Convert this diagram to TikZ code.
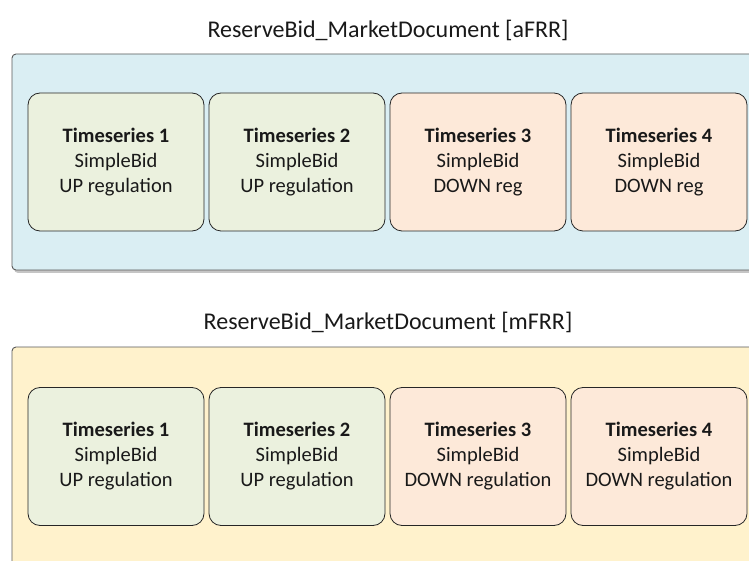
\documentclass[tikz,border=0pt]{standalone}
\usepackage{fontspec}
\setmainfont{Carlito}
\usepackage{xcolor}
\usetikzlibrary{shadows}

\definecolor{docblue}{HTML}{DAEEF3}
\definecolor{docyellow}{HTML}{FFF2CC}
\definecolor{upgreen}{HTML}{EBF1DE}
\definecolor{downred}{HTML}{FDE9D9}

\begin{document}
\begin{tikzpicture}[x=1pt, y=1pt,
    every node/.style={font=\fontsize{20.5}{25}\selectfont, text=black!90},
    doctitle/.style={font=\fontsize{24}{28}\selectfont},
    docbox/.style={draw=black!65, line width=0.9pt, rounded corners=4pt},
    tsbox/.style={draw=black!85, line width=0.8pt, rounded corners=12pt,
        minimum width=176pt, minimum height=138pt, align=center, inner sep=0pt},
    upbox/.style={tsbox, fill=upgreen},
    downbox/.style={tsbox, fill=downred}]
    \useasboundingbox (0,0) rectangle (749,560);
    \clip (0,0) rectangle (749,560);
    % Document aFRR
    \node[doctitle] (titleA) at (388, 530) {ReserveBid\_MarketDocument [aFRR]};
    \draw[docbox, fill=docblue, drop shadow={shadow xshift=2pt, shadow yshift=-3pt, fill=black!45}]
        (12, 290) rectangle (770, 506);
    \node[upbox]   (a1) at (116, 398) {\textbf{Timeseries 1}\\SimpleBid\\UP regulation};
    \node[upbox]   (a2) at (297, 398) {\textbf{Timeseries 2}\\SimpleBid\\UP regulation};
    \node[downbox] (a3) at (478, 398) {\textbf{Timeseries 3}\\SimpleBid\\DOWN reg};
    \node[downbox] (a4) at (659, 398) {\textbf{Timeseries 4}\\SimpleBid\\DOWN reg};
    % Document mFRR
    \node[doctitle] (titleM) at (388, 238) {ReserveBid\_MarketDocument [mFRR]};
    \draw[docbox, fill=docyellow] (12, -20) rectangle (770, 213);
    \node[upbox]   (m1) at (116, 103.5) {\textbf{Timeseries 1}\\SimpleBid\\UP regulation};
    \node[upbox]   (m2) at (297, 103.5) {\textbf{Timeseries 2}\\SimpleBid\\UP regulation};
    \node[downbox] (m3) at (478, 103.5) {\textbf{Timeseries 3}\\SimpleBid\\DOWN regulation};
    \node[downbox] (m4) at (659, 103.5) {\textbf{Timeseries 4}\\SimpleBid\\DOWN regulation};
\end{tikzpicture}
\end{document}
